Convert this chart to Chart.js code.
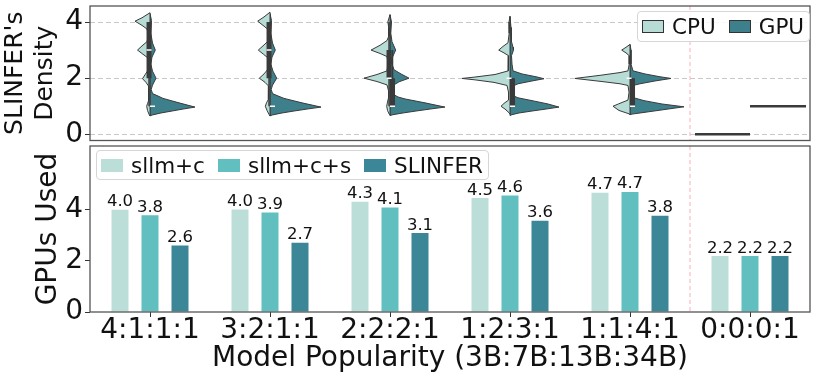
<!DOCTYPE html>
<html>
<head>
<meta charset="utf-8">
<script src="https://cdn.jsdelivr.net/npm/chart.js@4.4.1/dist/chart.umd.min.js"></script>
<style>
body { margin:0; width:817px; height:383px; overflow:hidden; background:#fff; font-family:"DejaVu Sans", sans-serif; }
#violin { position:absolute; left:0; top:0; }
#bars { position:absolute; left:0; top:140px; }
.legend { position:absolute; display:flex; align-items:center; box-sizing:border-box; padding:0 5px 0 4px;
  border:1px solid #d6d6d6; border-radius:4px; background:rgba(255,255,255,0.85); font-size:21.5px; color:#111; }
.legend .item { display:flex; align-items:center; margin-right:13px; }
.legend .item:last-child { margin-right:0; }
.legend .sw { width:22px; height:13px; margin-right:8px; box-sizing:border-box; }
</style>
</head>
<body>
<canvas id="violin" width="817" height="146"></canvas>
<canvas id="bars" width="817" height="243"></canvas>
<div class="legend" id="legend-top" style="left:637px;top:11px;height:31px;"></div>
<div class="legend" id="legend-bottom" style="left:96px;top:150px;height:30px;"></div>
<script>
const popularity = ['4:1:1:1', '3:2:1:1', '2:2:2:1', '1:2:3:1', '1:1:4:1', '0:0:0:1'];
const systems = ['sllm+c', 'sllm+c+s', 'SLINFER'];
const sllmC = [4.0, 4.01, 4.32, 4.46, 4.67, 2.19];
const sllmCS = [3.79, 3.9, 4.09, 4.56, 4.7, 2.19];
const slinfer = [2.6, 2.71, 3.09, 3.57, 3.77, 2.19];
const gpuTicks = [0, 2, 4];
const densityTicks = [0, 2, 4];
const devices = ['CPU', 'GPU'];
const splitAt = 4.5;

// violin outlines, [density level, relative half width], top to bottom
const cpuViolins = [
  [[4.33,0],[4.15,8],[4.03,15],[3.88,8],[3.75,3],[3.5,1.5],[3.3,3],[3.15,8],[3.0,12.5],[2.85,7],[2.72,2],[2.5,1.2],[2.3,2],[2.12,5],[1.98,7.5],[1.85,4],[1.72,1.5],[1.4,1.2],[1.2,1.5],[1.1,2.5],[1.0,3.3],[0.85,2.5],[0.7,0.8],[0.65,0]],
  [[4.35,0],[4.18,6],[4.03,12.3],[3.88,7],[3.75,2.5],[3.5,1.2],[3.3,2.5],[3.15,7],[3.0,11.7],[2.85,6.5],[2.72,2],[2.5,1.2],[2.3,2.5],[2.15,6],[2.0,10.7],[1.85,5],[1.72,1.5],[1.4,1.2],[1.25,2],[1.12,3.5],[1.0,4.7],[0.85,3],[0.7,0.8],[0.65,0]],
  [[4.26,0],[4.0,2.2],[3.8,1.2],[3.5,1.2],[3.34,3],[3.17,10],[3.0,19],[2.88,10],[2.77,3],[2.55,2],[2.26,3],[2.13,13],[2.0,26],[1.88,13],[1.76,3],[1.55,1.5],[1.3,1.5],[1.15,2.5],[1.0,3.3],[0.85,2.5],[0.72,0.8],[0.68,0]],
  [[4.2,0],[4.0,1],[3.6,0.8],[3.26,2],[3.13,7],[3.0,11.3],[2.9,6],[2.8,1.5],[2.5,1.5],[2.26,2],[2.13,15],[2.04,35],[1.99,48],[1.94,35],[1.85,16],[1.74,3],[1.5,1.5],[1.22,1.5],[1.1,6],[1.0,9],[0.9,5],[0.77,1],[0.72,0]],
  [[3.2,0],[3.1,4],[3.0,8.3],[2.9,4],[2.8,0.8],[2.5,0.8],[2.26,2],[2.2,10],[2.11,28],[1.99,55],[1.88,28],[1.8,10],[1.74,2],[1.5,1],[1.22,2],[1.08,11.7],[1.0,17],[0.85,11],[0.73,1],[0.7,0]],
  [[0,55]]
];
const gpuViolins = [
  [[4.3,0],[4.05,1.5],[3.6,0.8],[3.25,2.5],[3.0,5.3],[2.75,2],[2.5,0.8],[2.25,2.5],[2.0,6],[1.75,2.5],[1.6,1.2],[1.45,2.5],[1.38,7],[1.28,13],[1.12,29],[0.97,45],[0.9,33],[0.83,22],[0.76,11],[0.69,2.5],[0.66,0]],
  [[4.3,0],[4.05,1.5],[3.6,0.8],[3.25,2.5],[3.0,5.3],[2.75,2],[2.5,0.8],[2.25,3],[2.0,6.7],[1.75,2.5],[1.6,1.2],[1.45,2.5],[1.38,7],[1.28,14],[1.12,32],[0.97,51],[0.9,37],[0.83,24],[0.76,12],[0.69,2.5],[0.66,0]],
  [[4.26,0],[4.0,1.5],[3.6,0.8],[3.3,2],[3.0,5.7],[2.75,2.5],[2.5,2],[2.3,4],[2.15,11],[2.0,19],[1.87,9],[1.74,3],[1.55,2.5],[1.42,3.5],[1.33,8],[1.26,15],[1.12,35],[0.97,55],[0.9,40],[0.83,26],[0.76,13],[0.7,3],[0.67,0]],
  [[4.2,0],[3.8,1],[3.3,1.5],[3.1,3],[3.0,3.5],[2.8,1.5],[2.5,2],[2.26,3],[2.15,12],[2.05,26],[1.98,34],[1.9,22],[1.8,8],[1.72,3],[1.5,2],[1.38,3],[1.3,8],[1.2,22],[1.08,38],[0.97,49],[0.9,36],[0.83,22],[0.76,9],[0.7,2],[0.67,0]],
  [[3.2,0],[3.0,1],[2.5,1],[2.26,3],[2.15,15],[2.05,30],[1.99,41],[1.9,25],[1.8,10],[1.74,3],[1.5,2],[1.3,4],[1.2,14],[1.08,32],[0.98,54],[0.9,38],[0.83,24],[0.76,10],[0.72,2],[0.7,0]],
  [[1,56]]
];
// inner boxes: [q1, q3, median, whisker low, whisker high]
const cpuBoxes = [[2,4,3,1,4], [2,4,3,1,4], [2,3,2,1,4], [2,2,2,2,2], [2,2,2,2,2], null];
const gpuBoxes = [[1,1,1,1,1], [1,1,1,1,1], [1,2,1,1,3], [1,2,1,1,2], [1,2,1,1,2], null];

const barColors = ['#bbdfd8', '#62bfc0', '#3b8797'];
const deviceColors = ['#b7dbd5', '#3e7f8c'];
const font = 'DejaVu Sans';
const violinScale = 1 / 120;
const ink = '#3a3a3a';

// fixed axis sizes, no extra room for edge labels
function fixWidth(s) { s.width = 90; s.paddingTop = 0; s.paddingBottom = 0; }
function fixHeight(s) { s.height = 71; s.paddingLeft = 0; s.paddingRight = 0; }

const frame = {
  id: 'frame',
  afterDraw(chart) {
    const {ctx, chartArea: a} = chart;
    ctx.save();
    ctx.strokeStyle = '#555';
    ctx.lineWidth = 1.3;
    ctx.strokeRect(a.left, a.top, a.right - a.left, a.bottom - a.top);
    ctx.restore();
  }
};

const divider = {
  id: 'divider',
  beforeDatasetsDraw(chart) {
    const {ctx, chartArea: a} = chart;
    const x = chart.scales.x.getPixelForValue(splitAt);
    ctx.save();
    ctx.strokeStyle = '#ffc0cb';
    ctx.lineWidth = 1.3;
    ctx.setLineDash([4, 3]);
    ctx.beginPath();
    ctx.moveTo(x, a.top);
    ctx.lineTo(x, a.bottom);
    ctx.stroke();
    ctx.restore();
  }
};

const barLabels = {
  id: 'barLabels',
  afterDatasetsDraw(chart) {
    const ctx = chart.ctx;
    ctx.save();
    ctx.font = '16.5px "DejaVu Sans"';
    ctx.fillStyle = '#111';
    ctx.textAlign = 'center';
    ctx.textBaseline = 'alphabetic';
    chart.data.datasets.forEach((ds, di) => {
      chart.getDatasetMeta(di).data.forEach((bar, i) => {
        ctx.fillText(ds.data[i].toFixed(1), bar.x, bar.y - 3.5);
      });
    });
    ctx.restore();
  }
};

// split violins
const violinSets = [];
function addViolin(shape, i, side, color) {
  const pts = [{x: i, y: shape[0][0]}];
  shape.forEach(([v, w]) => pts.push({x: i + side * w * violinScale, y: v}));
  pts.push({x: i, y: shape[shape.length - 1][0]});
  pts.push({x: i, y: shape[0][0]});
  violinSets.push({
    type: 'line', data: pts, backgroundColor: color, borderColor: ink,
    borderWidth: shape.length === 1 ? 2.5 : 1, fill: 'shape', pointRadius: 0, tension: 0, order: 3
  });
}
function addBox(box, i, dx) {
  if (!box) return;
  const [q1, q3, med, lo, hi] = box;
  const x = i + dx;
  violinSets.push({type: 'line', data: [{x, y: lo}, {x, y: hi}], borderColor: ink, borderWidth: 1.5, pointRadius: 0, fill: false, order: 2});
  violinSets.push({type: 'line', data: [{x, y: q1}, {x, y: q3}], borderColor: ink, borderWidth: 5, borderCapStyle: 'butt', pointRadius: 0, fill: false, order: 1});
  violinSets.push({type: 'scatter', data: [{x, y: med}], pointStyle: 'line', pointRadius: 2.5, pointBorderColor: '#fff', pointBorderWidth: 1.5, order: 0});
}
popularity.forEach((p, i) => {
  addViolin(cpuViolins[i], i, -1, deviceColors[0]);
  addViolin(gpuViolins[i], i, 1, deviceColors[1]);
  addBox(cpuBoxes[i], i, -0.008);
  addBox(gpuBoxes[i], i, 0.021);
});

new Chart(document.getElementById('violin'), {
  type: 'scatter',
  data: {datasets: violinSets},
  options: {
    responsive: false, animation: false, events: [],
    layout: {padding: {top: 6, right: 7, left: 0, bottom: 0}},
    plugins: {legend: {display: false}, tooltip: {enabled: false}},
    scales: {
      x: {type: 'linear', min: -0.5, max: 5.5, display: false},
      y: {
        min: -0.22, max: 4.57,
        afterBuildTicks: s => { s.ticks = densityTicks.map(v => ({value: v})); },
        grid: {color: '#c8c8c8', lineWidth: 1, tickLength: 5, tickColor: '#333', tickWidth: 1},
        border: {display: false, dash: [5, 3]},
        ticks: {font: {family: font, size: 28, lineHeight: 1}, color: '#111', padding: 2},
        title: {display: true, text: ["SLINFER's", 'Density'], font: {family: font, size: 25, lineHeight: 1.2}, color: '#111', padding: {top: 0, bottom: 0}},
        afterFit: fixWidth
      }
    }
  },
  plugins: [divider, frame]
});

new Chart(document.getElementById('bars'), {
  type: 'bar',
  data: {
    labels: popularity,
    datasets: [sllmC, sllmCS, slinfer].map((d, k) => ({label: systems[k], data: d, backgroundColor: barColors[k]}))
  },
  options: {
    responsive: false, animation: false, events: [],
    categoryPercentage: 0.75, barPercentage: 0.567,
    layout: {padding: {top: 6, right: 7, left: 0, bottom: 0}},
    plugins: {legend: {display: false}, tooltip: {enabled: false}},
    scales: {
      x: {
        grid: {offset: false, drawOnChartArea: false, tickLength: 5, tickColor: '#333'},
        border: {display: false},
        ticks: {font: {family: font, size: 28, lineHeight: 1}, color: '#111', padding: 0, maxRotation: 0},
        title: {display: true, text: 'Model Popularity (3B:7B:13B:34B)', font: {family: font, size: 28, lineHeight: 1}, color: '#111', padding: {top: 0, bottom: 10}},
        afterFit: fixHeight
      },
      y: {
        min: 0, max: 6.5,
        afterBuildTicks: s => { s.ticks = gpuTicks.map(v => ({value: v})); },
        grid: {drawOnChartArea: false, tickLength: 5, tickColor: '#333'},
        border: {display: false},
        ticks: {font: {family: font, size: 28, lineHeight: 1}, color: '#111', padding: 2},
        title: {display: true, text: 'GPUs Used', font: {family: font, size: 28, lineHeight: 1}, color: '#111', padding: {top: 34.5, bottom: 0}},
        afterFit: fixWidth
      }
    }
  },
  plugins: [divider, barLabels, frame]
});

function buildLegend(id, names, colors, edged) {
  const box = document.getElementById(id);
  names.forEach((n, k) => {
    const item = document.createElement('div');
    item.className = 'item';
    const sw = document.createElement('span');
    sw.className = 'sw';
    sw.style.background = colors[k];
    if (edged) sw.style.border = '1px solid #333';
    const label = document.createElement('span');
    label.textContent = n;
    item.appendChild(sw);
    item.appendChild(label);
    box.appendChild(item);
  });
}
buildLegend('legend-top', devices, deviceColors, true);
buildLegend('legend-bottom', systems, barColors, false);
</script>
</body>
</html>
